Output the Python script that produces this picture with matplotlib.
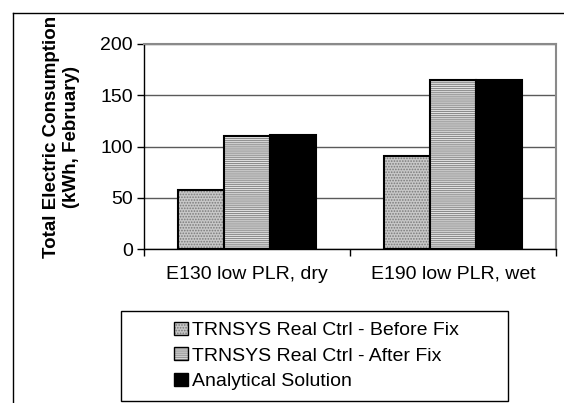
import numpy as np
import matplotlib
matplotlib.use("Agg")
import matplotlib.pyplot as plt
from matplotlib.patches import Rectangle
from matplotlib.lines import Line2D

# data
categories = ["E130 low PLR, dry", "E190 low PLR, wet"]
series_names = ["TRNSYS Real Ctrl - Before Fix",
                "TRNSYS Real Ctrl - After Fix",
                "Analytical Solution"]
before_fix = [58, 91]
after_fix = [110, 165]
analytical = [111, 165]
y_ticks = [0, 50, 100, 150, 200]

plt.rcParams['font.family'] = ['Liberation Sans', 'DejaVu Sans']
plt.rcParams['hatch.linewidth'] = 0.8

W, H = 564, 403
fig = plt.figure(figsize=(W / 100, H / 100), dpi=100)

# plot area in pixel terms
left, right, top, bottom = 144, 556, 44, 249.3
ax = fig.add_axes([left / W, 1 - bottom / H, (right - left) / W, (bottom - top) / H])

x = np.arange(len(categories))
w = 1 / 4.5  # excel gap width 150%

styles = [
    dict(facecolor='#c8c8c8', hatch='......', hatch_color='#7a7a7a'),
    dict(facecolor='#e6e6e6', hatch='--------', hatch_color='#8c8c8c'),
    dict(facecolor='black', hatch=None, hatch_color='black'),
]
vals = [before_fix, after_fix, analytical]

handles = []
for i, (v, st) in enumerate(zip(vals, styles)):
    bars = ax.bar(x + (i - 1) * w, v, width=w, facecolor=st['facecolor'],
                  edgecolor='black', linewidth=1.5, hatch=st['hatch'],
                  zorder=3, label=series_names[i])
    for b in bars:
        b._hatch_color = matplotlib.colors.to_rgba(st['hatch_color'])
    handles.append(bars)

ax.set_xlim(-0.5, 1.5)
ax.set_ylim(0, 200)
ax.set_yticks(y_ticks)
ax.yaxis.grid(True, color='#5a5a5a', linewidth=1.0, zorder=0)
ax.set_axisbelow(True)

ax.set_xticks(x)
ax.set_xticklabels(categories, fontsize=14)
ax.set_xticks([-0.5, 0.5, 1.5], minor=True)
ax.tick_params(axis='x', which='major', length=0, pad=12)
ax.tick_params(axis='x', which='minor', length=5, width=1, direction='out', color='black')
ax.tick_params(axis='y', length=5, width=1, direction='out', pad=3, labelsize=14)

for s in ['top', 'right']:
    ax.spines[s].set_color('#8a8a8a')
    ax.spines[s].set_linewidth(1.5)
for s in ['left', 'bottom']:
    ax.spines[s].set_color('black')
    ax.spines[s].set_linewidth(1.0)

# y label, two lines, bold
fig.text(61.5 / W, 1 - 137 / H, "Total Electric Consumption\n(kWh, February)",
         rotation=90, ha='center', va='center', fontsize=13.5, fontweight='bold',
         multialignment='center', linespacing=1.2)

# legend box drawn separately
lx0, lx1, ly0, ly1 = 121, 508, 311, 401
fig.patches.append(Rectangle((lx0 / W, 1 - ly1 / H), (lx1 - lx0) / W, (ly1 - ly0) / H,
                             transform=fig.transFigure, facecolor='white',
                             edgecolor='black', linewidth=1.0, zorder=1))
leg = fig.legend(handles=handles, loc='center', bbox_to_anchor=(316 / W, 1 - 356 / H),
                 frameon=False, fontsize=14, handlelength=0.72, handleheight=0.65,
                 handletextpad=0.2, labelspacing=0.42, borderpad=0)
for p in leg.get_patches():
    p.set_linewidth(1.0)

# outer frame (left and top edges)
fig.add_artist(Line2D([12.5 / W, 12.5 / W], [0, 1 - 12.5 / H], transform=fig.transFigure,
                      color='black', linewidth=1.0))
fig.add_artist(Line2D([12.5 / W, 1], [1 - 12.5 / H, 1 - 12.5 / H], transform=fig.transFigure,
                      color='black', linewidth=1.0))

fig.savefig("out.png", dpi=100)
